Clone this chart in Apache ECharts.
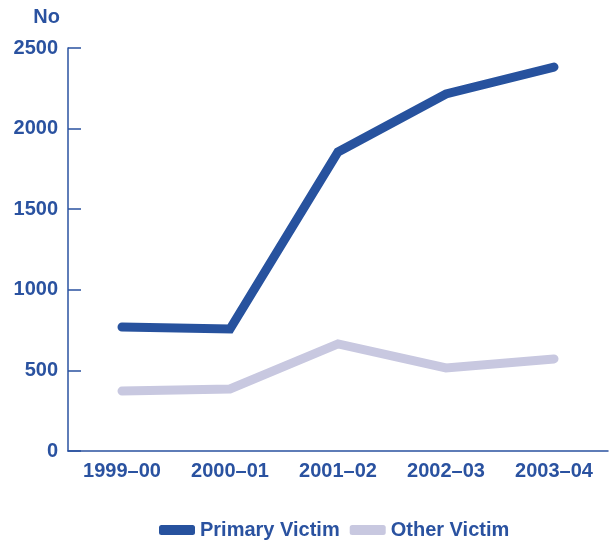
<!DOCTYPE html>
<html><head><meta charset="utf-8">
<script src="https://cdn.jsdelivr.net/npm/echarts@6/dist/echarts.min.js"></script>
<style>html,body{margin:0;padding:0;background:#fff}#c{width:612px;height:542px}</style>
</head><body><div id="c"></div>
<script>
var categories = ['1999\u201300', '2000\u201301', '2001\u201302', '2002\u201303', '2003\u201304'];
var primaryVictim = [769, 757, 1855, 2215, 2382];
var otherVictim = [372, 385, 664, 515, 571];
var yTicks = [0, 500, 1000, 1500, 2000, 2500];

var blue = '#2a52a0';
var font = 'Liberation Sans, Arial, sans-serif';
var chart = echarts.init(document.getElementById('c'));
chart.setOption({
  animation: false,
  grid: { left: 68, right: 4, top: 48, bottom: 91 },
  legend: {
    left: 154, top: 515, itemWidth: 36, itemHeight: 10, itemGap: 10,
    icon: 'roundRect',
    textStyle: { color: blue, fontFamily: font, fontWeight: 'bold', fontSize: 20, padding: [0, 0, 0, 0] },
    data: ['Primary Victim', 'Other Victim']
  },
  xAxis: {
    type: 'category', data: categories, boundaryGap: true,
    axisLine: { lineStyle: { color: blue, width: 1.5 } },
    axisTick: { inside: true, length: 10, lineStyle: { color: blue, width: 1.5 } },
    axisLabel: { color: blue, fontFamily: font, fontWeight: 'bold', fontSize: 20, margin: 10 }
  },
  yAxis: {
    type: 'value', min: yTicks[0], max: yTicks[yTicks.length - 1], interval: 500,
    name: 'No', nameLocation: 'end', nameGap: 31,
    nameTextStyle: { color: blue, fontFamily: font, fontWeight: 'bold', fontSize: 20, align: 'right', verticalAlign: 'middle', padding: [0, 8, 0, 0] },
    splitLine: { show: false },
    axisLine: { show: true, lineStyle: { color: blue, width: 1.5 } },
    axisTick: { show: true, inside: true, length: 13, lineStyle: { color: blue, width: 1.5 } },
    axisLabel: { color: blue, fontFamily: font, fontWeight: 'bold', fontSize: 20, margin: 10,
      formatter: function (v) { return String(v); } }
  },
  series: [
    { name: 'Primary Victim', type: 'line', data: primaryVictim, symbol: 'none', color: '#27529e',
      lineStyle: { width: 9, color: '#27529e', cap: 'round', join: 'miter' }, z: 3 },
    { name: 'Other Victim', type: 'line', data: otherVictim, symbol: 'none', color: '#c8c8e0',
      lineStyle: { width: 9, color: '#c8c8e0', cap: 'round', join: 'miter' }, z: 2 }
  ]
});
</script></body></html>
